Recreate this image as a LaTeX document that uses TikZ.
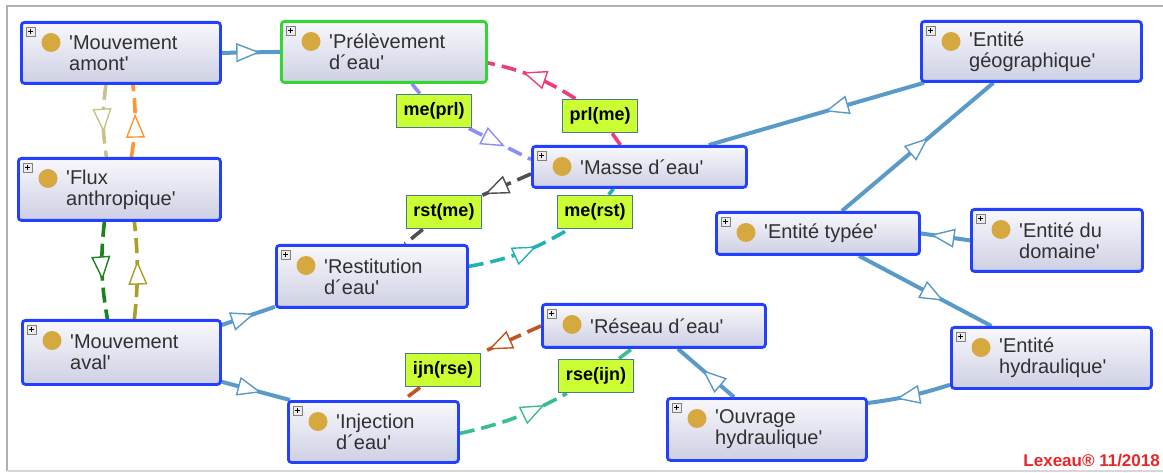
\documentclass[tikz,border=0pt]{standalone}
\usepackage{fontspec}
\setsansfont{Liberation Sans}
\usetikzlibrary{arrows.meta,decorations.markings,backgrounds}

\definecolor{bordclasse}{RGB}{36,64,255}
\definecolor{bordprl}{RGB}{52,214,52}
\definecolor{fondhaut}{RGB}{248,248,252}
\definecolor{fondbas}{RGB}{206,208,228}
\definecolor{pastille}{RGB}{214,168,64}
\definecolor{isableu}{RGB}{90,154,200}
\definecolor{etiqfond}{RGB}{204,255,51}
\definecolor{etiqbord}{RGB}{74,122,154}
\definecolor{kaki}{RGB}{200,194,140}
\definecolor{orangep}{RGB}{255,150,50}
\definecolor{vertf}{RGB}{30,130,30}
\definecolor{olivep}{RGB}{168,160,40}
\definecolor{rose}{RGB}{240,60,120}
\definecolor{lavande}{RGB}{140,140,255}
\definecolor{grisf}{RGB}{80,80,80}
\definecolor{turquoise}{RGB}{32,178,180}
\definecolor{brique}{RGB}{192,86,30}
\definecolor{vertmer}{RGB}{60,190,140}
\definecolor{rougelex}{RGB}{232,40,40}
\definecolor{cadre}{RGB}{176,176,176}
\definecolor{textegris}{RGB}{48,48,48}

\newcommand{\q}{\textquotesingle}

\tikzset{
  classe/.style={line width=2.8pt, rounded corners=3pt, top color=fondhaut, bottom color=fondbas, inner sep=0pt},
  texteclasse/.style={font=\sffamily\fontsize{20}{21}\selectfont, text=textegris, align=left, inner sep=0pt},
  etiquette/.style={draw=etiqbord, fill=etiqfond, line width=1.8pt, font=\sffamily\bfseries\fontsize{18}{18}\selectfont, minimum width=75pt, minimum height=33pt, inner sep=0pt},
  isa/.tip={Triangle[fill=white, length=24pt, width=19pt, line width=1.4pt]},
  tri/.style={postaction={decorate}, decoration={markings, mark=at position #1 with {\arrow{isa}}}},
  herite/.style={color=isableu, line width=4pt},
  propriete/.style={color=#1, line width=3.6pt, dash pattern=on 15pt off 7pt},
}

% boite de classe : [bord] nom, gauche, haut, largeur, hauteur, texte
\newcommand{\classe}[7][bordclasse]{%
  \node[classe, draw=#1, minimum width=#5pt, minimum height=#6pt, anchor=north west] (#2) at (#3,#4) {};
  \draw[fill=gray!15, draw=gray, line width=0.6pt] ([shift={(6pt,-6pt)}]#2.north west) rectangle ++(9pt,-9pt);
  \draw[line width=0.8pt] ([shift={(8pt,-10.5pt)}]#2.north west) -- ++(5pt,0pt)
    ([shift={(10.5pt,-8pt)}]#2.north west) -- ++(0pt,-5pt);
  \fill[pastille] ([shift={(31pt,-21.5pt)}]#2.north west) circle[radius=9.5pt];
  \node[texteclasse, anchor=west] at ([xshift=49pt]#2.west) {#7};
}

\begin{document}
\begin{tikzpicture}[x=1pt,y=-1pt]
  \useasboundingbox (0,0) rectangle (1163,473);
  \draw[cadre, line width=1.5pt] (1163,6) -- (7,6) -- (7,471);
  \draw[cadre!50, line width=1.5pt] (7,471) -- (1163,471);

  \classe{amont}{20}{21}{199}{61}{\q Mouvement\\amont\q}
  \classe[bordprl]{prel}{280}{20}{205}{61}{\q Prélèvement\\d´eau\q}
  \classe{flux}{17}{157}{202}{62}{\q Flux\\anthropique\q}
  \classe{aval}{21}{319}{198}{64}{\q Mouvement\\aval\q}
  \classe{restit}{275}{244}{191}{62}{\q Restitution\\d´eau\q}
  \classe{inject}{287}{400}{170}{61}{\q Injection\\d´eau\q}
  \classe{masse}{531}{145}{214}{41}{\q Masse d´eau\q}
  \classe{geo}{920}{20}{220}{60}{\q Entité\\géographique\q}
  \classe{typee}{715}{211}{203}{42}{\q Entité typée\q}
  \classe{domaine}{970}{208}{171}{62}{\q Entité du\\domaine\q}
  \classe{reseau}{541}{303}{223}{43}{\q Réseau d´eau\q}
  \classe{ouvrage}{666}{397}{199}{62}{\q Ouvrage\\hydraulique\q}
  \classe{hydrau}{950}{326}{200}{61}{\q Entité\\hydraulique\q}

  \node[etiquette] (lmeprl) at (434,111) {me(prl)};
  \node[etiquette] (lprlme) at (600,116) {prl(me)};
  \node[etiquette] (lrstme) at (444,212) {rst(me)};
  \node[etiquette] (lmerst) at (595,212) {me(rst)};
  \node[etiquette] (lijnrse) at (443,370) {ijn(rse)};
  \node[etiquette] (lrseijn) at (596,376) {rse(ijn)};

  \node[font=\sffamily\bfseries\fontsize{17}{17}\selectfont, text=rougelex, anchor=east, inner sep=0pt] (lexeau) at (1160,461) {Lexeau® 11/2018};

  \begin{scope}[on background layer]
    % heritages
    \draw[herite, tri=0.66] (amont.east) -- (prel.west);
    \draw[herite, tri=0.62] ([yshift=-6pt]aval.north east) -- ([yshift=2pt]restit.south west);
    \draw[herite, tri=0.58] ([yshift=4pt]aval.south east) -- ([xshift=3pt]inject.north west);
    \draw[herite, tri=0.46] ([xshift=4pt]geo.south west) -- ([xshift=-39pt]masse.north east);
    \draw[herite, tri=0.57] ([xshift=24pt]typee.north) -- ([xshift=-38pt]geo.south);
    \draw[herite, tri=0.8] (domaine.west) -- (typee.east);
    \draw[herite, tri=0.64] ([xshift=41pt]typee.south) -- ([xshift=-60pt]hydrau.north);
    \draw[herite, tri=0.66] ([yshift=5pt]hydrau.south west) to[bend left=5] ([yshift=-6pt]ouvrage.north east);
    \draw[herite, tri=0.56] ([xshift=-33pt]ouvrage.north) -- ([xshift=24pt]reseau.south);

    % proprietes
    \draw[propriete=kaki, tri=0.66] ([xshift=-15pt]amont.south) to[bend right=8] ([xshift=-13pt]flux.north);
    \draw[propriete=orangep, tri=0.6] ([xshift=12pt]flux.north) to[bend right=8] ([xshift=12pt]amont.south);
    \draw[propriete=vertf, tri=0.6] ([xshift=-15pt]flux.south) to[bend right=8] ([xshift=-14pt]aval.north);
    \draw[propriete=olivep, tri=0.6] ([xshift=13pt]aval.north) to[bend right=6] ([xshift=15pt]flux.south);

    \draw[propriete=rose] ([xshift=-19pt]masse.north) -- (lprlme);
    \draw[propriete=rose, tri=0.62] (lprlme) to[bend right=10] ([yshift=-11pt]prel.east);
    \draw[propriete=lavande] ([xshift=28pt]prel.south) -- (lmeprl);
    \draw[propriete=lavande, tri=0.58] (lmeprl) -- ([yshift=7.5pt]masse.west);
    \draw[propriete=grisf, tri=0.95] ([yshift=-7pt]masse.west) -- (lrstme);
    \draw[propriete=grisf] (lrstme) -- ([xshift=33pt]restit.north);
    \draw[propriete=turquoise, tri=0.66] ([yshift=10pt]restit.east) to[bend right=10] (lmerst);
    \draw[propriete=turquoise] (lmerst) -- ([xshift=-26pt]masse.south);
    \draw[propriete=brique, tri=0.88] (reseau.west) -- (lijnrse);
    \draw[propriete=brique] (lijnrse) -- ([xshift=30pt]inject.north);
    \draw[propriete=vertmer, tri=0.78] ([yshift=-1.5pt]inject.east) to[bend right=8] (lrseijn);
    \draw[propriete=vertmer] (lrseijn) -- ([xshift=-22pt]reseau.south);
  \end{scope}
\end{tikzpicture}
\end{document}
